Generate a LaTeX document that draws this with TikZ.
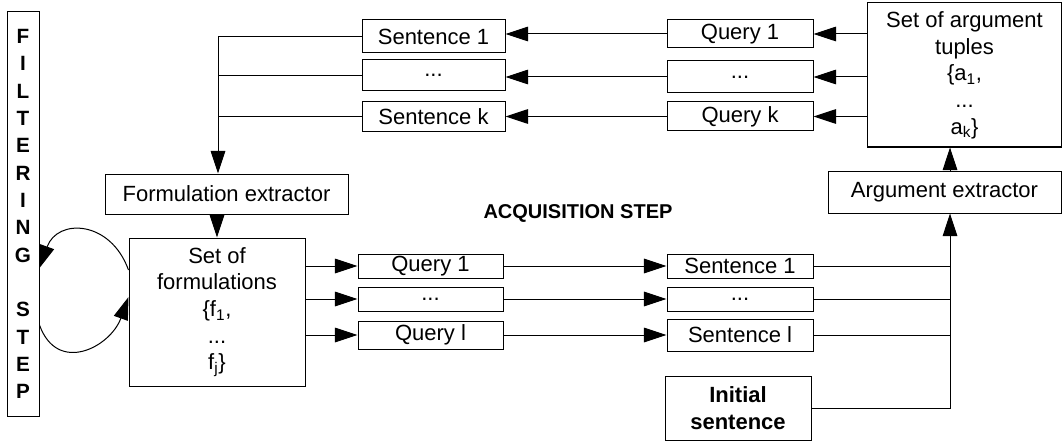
\documentclass[tikz,border=0pt]{standalone}
\usepackage{fontspec}
\setmainfont{Liberation Sans}
\usetikzlibrary{arrows.meta}
\newcommand{\threedots}{...}
\begin{document}
\begin{tikzpicture}[x=0.75pt,y=-0.75pt,line width=0.75pt,
    box/.style={draw,inner sep=0pt,align=center,font=\fontsize{16.5}{20}\selectfont},
    sz/.style 2 args={minimum width=#1*0.75pt,minimum height=#2*0.75pt},
    arr/.style={-{Triangle[length=17pt,width=11pt]}}]
    \useasboundingbox (0,0) rectangle (1062,442);
    \path 
    (218,0) coordinate (tj)
    (950,0) coordinate (rj)
    ;
    % filtering step
    \node[box,sz={32}{404},font=\fontsize{15.5}{20.5}\selectfont\bfseries] (fil) at (23,214)
    {F\\I\\L\\T\\E\\R\\I\\N\\G\\[20.5pt]S\\T\\E\\P};
    \node[box,sz={243}{40}] (fe) at (226.5,194) {Formulation extractor};
    \node[box,sz={176}{148}] (sof) at (217,312) {Set of\\formulations\\\{f\textsubscript{1},\\...\\f\textsubscript{j}\}};
    \node[box,sz={194}{144}] (sat) at (964.5,75) {Set of argument\\tuples\\\{a\textsubscript{1},\\...\\a\textsubscript{k}\}};
    \node[box,sz={233}{42}] (ae) at (944.5,192) {Argument extractor};
    \node[font=\fontsize{15}{18}\selectfont\bfseries] (acq) at (578,213) {ACQUISITION STEP};
    \node[box,sz={146}{64},font=\fontsize{16.5}{20}\selectfont\bfseries] (ini) at (738,408) {Initial\\sentence};
    % top rows
    \foreach \n/\t/\y/\h in {s1/Sentence 1/36.5/33,sd/\threedots/75.5/31,sk/Sentence k/117/30}
        \node[box,sz={143}{\h}] (\n) at (433.5,\y) {\t};
    \foreach \n/\t/\y/\h in {q1t/Query 1/34/28,qdt/\threedots/77/32,qkt/Query k/116.5/29}
        \node[box,sz={146}{\h}] (\n) at (740,\y) {\t};
    % bottom rows
    \foreach \n/\t/\y/\h in {q1b/Query 1/266/24,qdb/\threedots/299/24,qlb/Query l/335/28}
        \node[box,sz={145}{\h}] (\n) at (430.5,\y) {\t};
    \foreach \n/\t/\y/\h in {s1b/Sentence 1/266/24,sdb/\threedots/299/24,slb/Sentence l/335/32}
        \node[box,sz={146}{\h}] (\n) at (740,\y) {\t};
    
    \foreach \a/\b in {q1t/s1,qdt/sd,qkt/sk}
        \draw[arr] (\a.west) -- (\b.east |- \a.west);
    \foreach \a in {q1t,qdt,qkt}
        \draw[arr] (sat.west |- \a.east) -- (\a.east);
    \draw (sd.west) -- (sd.west -| tj) (sk.west) -- (sk.west -| tj);
    \draw[arr] (s1.west) -- (s1.west -| tj) -- (fe.north -| tj);
    \draw[arr] (fe.south -| sof.north) -- (sof.north);
    \foreach \a/\b in {q1b/s1b,qdb/sdb,qlb/slb}{
        \draw[arr] (\a.west -| sof.east) -- (\a.west);
        \draw[arr] (\a.east) -- (\b.west);
        \draw (\b.east) -- (\b.east -| rj);
    }
    \draw[arr] (ini.east) -- (ini.east -| rj) -- (ae.south -| rj);
    \draw[arr] (ae.north -| rj) -- (sat.south -| rj);
    % loop
    \draw[arr] ([yshift=31.5pt]sof.west) .. controls +(-18,-50) and +(18,-50) .. ([yshift=-40.5pt]fil.east);
    \draw[arr] ([yshift=-83.25pt]fil.east) .. controls +(18,50) and +(-18,50) .. ([yshift=11.25pt]sof.west);
\end{tikzpicture}
\end{document}
